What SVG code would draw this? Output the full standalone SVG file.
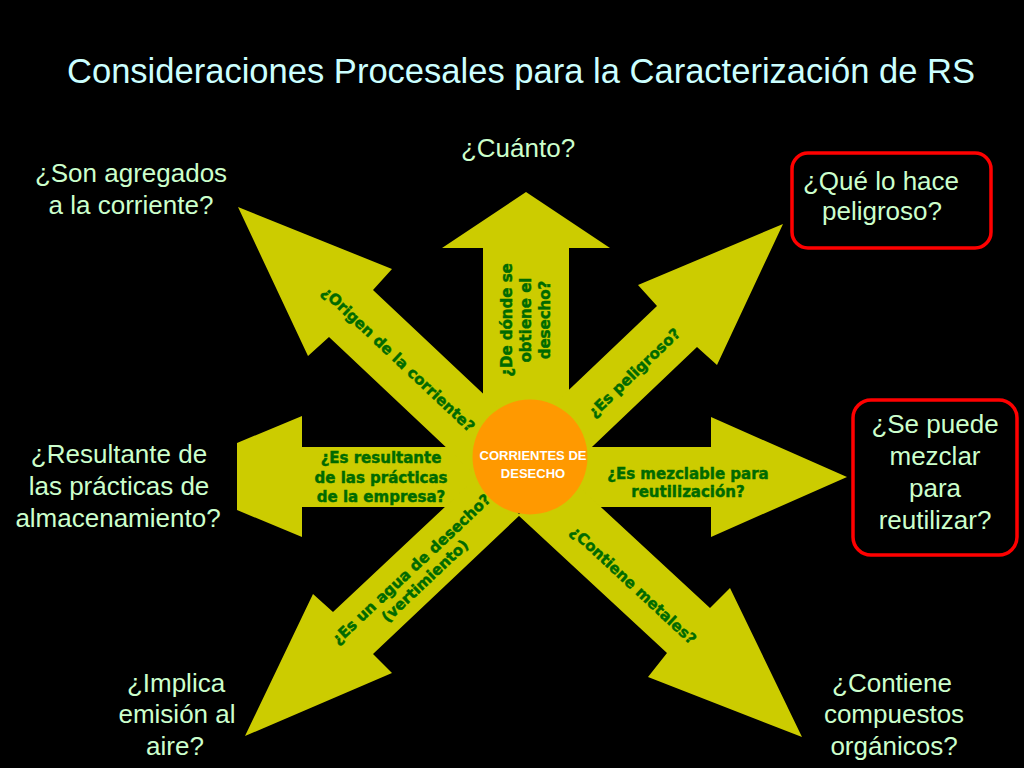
<svg xmlns="http://www.w3.org/2000/svg" width="1024" height="768" viewBox="0 0 1024 768">
<style>
.arrow{fill:#cccc00;stroke:none}
.q{font-family:"Liberation Sans","DejaVu Sans",sans-serif;font-size:26px;fill:#ccffcc;text-anchor:middle}
.g{font-family:"DejaVu Sans","Liberation Sans",sans-serif;font-size:15px;font-weight:bold;fill:#006a00;stroke:#006a00;stroke-width:0.45;text-anchor:middle}
.box{fill:#000;stroke:#ff0000;stroke-width:3.5}
.c{font-family:"Liberation Sans","DejaVu Sans",sans-serif;font-size:13px;font-weight:bold;fill:#ffffff;text-anchor:middle}
</style>
<rect x="0" y="0" width="1024" height="768" fill="#000"/>
<text id="title" x="67" y="83" textLength="908" lengthAdjust="spacingAndGlyphs" style="font-family:'Liberation Sans','DejaVu Sans',sans-serif;font-size:34.5px;fill:#ccffff">Consideraciones Procesales para la Caracterización de RS</text>

<g id="connectors">
  <polygon id="arrow-up" class="arrow" points="483,460 483,248 442,248 526,192 610,248 569,248 569,460"/>
  <polygon id="arrow-left" class="arrow" points="530,447 302,447 302,416 237,443 237,510 302,537 302,507 530,507"/>
  <polygon id="arrow-right" class="arrow" points="530,447 711,447 711,417 847,477 711,537 711,507 530,507"/>
  <polygon id="arrow-nw" class="arrow" points="529,437 373,290 392,269 238,207 308,356 329,337 485,484"/>
  <polygon id="arrow-ne" class="arrow" points="512,444 657,306 638,285 783,224 717,365 697,347 552,485"/>
  <polygon id="arrow-se" class="arrow" points="563,472 710,608 730,588 802,737 648,677 667,653 518,515"/>
  <polygon id="arrow-sw" class="arrow" points="479,475 333,612 313,594 245,736 392,673 373,654 520,515"/>
  <text class="g" transform="translate(526,320) rotate(-90)"><tspan x="0" y="-14">¿De dónde se</tspan><tspan x="0" y="5">obtiene el</tspan><tspan x="0" y="24">desecho?</tspan></text>
  <text class="g" transform="translate(394.8,362.9) rotate(43.3)">¿Origen de la corriente?</text>
  <text class="g" transform="translate(637.7,376.4) rotate(-43.8)">¿Es peligroso?</text>
  <text class="g" transform="translate(629.8,589) rotate(42.8)">¿Contiene metales?</text>
  <text class="g" transform="translate(414.7,572.9) rotate(-43.2)"><tspan x="0" y="0">¿Es un agua de desecho?</tspan><tspan x="2" y="18">(vertimiento)</tspan></text>
  <text class="g"><tspan x="381" y="463">¿Es resultante</tspan><tspan x="381" y="483">de las prácticas</tspan><tspan x="381" y="502">de la empresa?</tspan></text>
  <text class="g"><tspan x="688" y="479">¿Es mezclable para</tspan><tspan x="688" y="497">reutilización?</tspan></text>
</g>

<g id="node-center">
  <circle cx="530" cy="457" r="57.5" fill="#ff9900"/>
  <text class="c"><tspan x="533" y="460">CORRIENTES DE</tspan><tspan x="533" y="478">DESECHO</tspan></text>
</g>
<g id="node-cuanto"><text class="q" x="518" y="157">¿Cuánto?</text></g>
<g id="node-agregados"><text class="q"><tspan x="131" y="182">¿Son agregados</tspan><tspan x="131" y="214">a la corriente?</tspan></text></g>
<g id="node-peligroso">
  <rect class="box" x="792" y="153" width="199" height="95" rx="16"/>
  <text class="q"><tspan x="881" y="190">¿Qué lo hace</tspan><tspan x="882" y="220">peligroso?</tspan></text>
</g>
<g id="node-resultante"><text class="q"><tspan x="119" y="463">¿Resultante de</tspan><tspan x="119" y="495">las prácticas de</tspan><tspan x="118" y="527">almacenamiento?</tspan></text></g>
<g id="node-mezclar">
  <rect class="box" x="853" y="400" width="164" height="155" rx="18"/>
  <text class="q"><tspan x="935" y="433">¿Se puede</tspan><tspan x="935" y="465">mezclar</tspan><tspan x="935" y="497">para</tspan><tspan x="935" y="529">reutilizar?</tspan></text>
</g>
<g id="node-emision"><text class="q"><tspan x="176" y="692">¿Implica</tspan><tspan x="177" y="723">emisión al</tspan><tspan x="175" y="755">aire?</tspan></text></g>
<g id="node-organicos"><text class="q"><tspan x="892" y="692">¿Contiene</tspan><tspan x="894" y="723">compuestos</tspan><tspan x="894" y="755">orgánicos?</tspan></text></g>
</svg>
